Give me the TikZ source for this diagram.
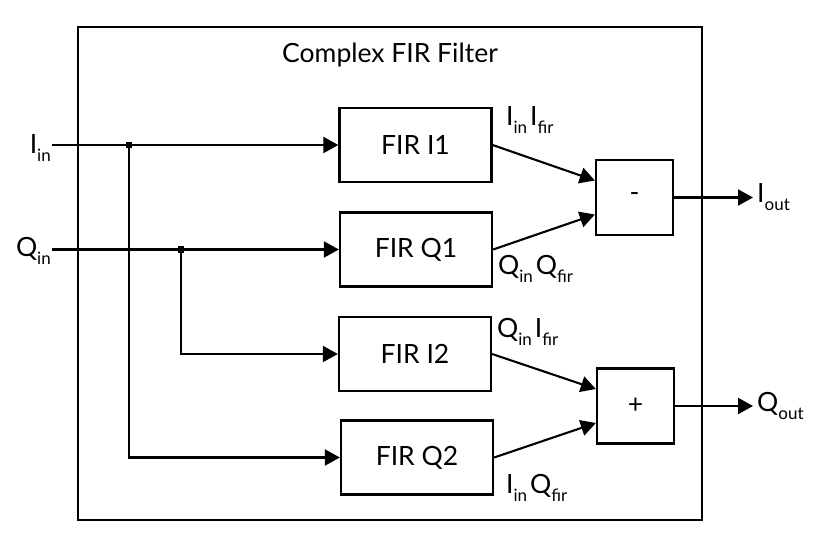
\documentclass[tikz,border=0pt]{standalone}
\usepackage{fontspec}
\setmainfont{Lato}
\usetikzlibrary{arrows.meta}
\newcommand{\sbs}[1]{\raisebox{-8.5pt}{\fontsize{17}{17}\selectfont #1}}
\begin{document}
\begin{tikzpicture}[x=1pt,y=-1pt, font=\fontsize{26.5}{30}\selectfont,
  firbox/.style={draw, line width=2.3pt, minimum width=152pt, minimum height=74pt, inner sep=0pt},
  opbox/.style={draw, line width=2.3pt, minimum width=77pt, minimum height=75pt, inner sep=0pt},
  wire/.style={line width=2.1pt},
  arr/.style={wire, -{Triangle[length=15pt,width=16pt]}},
  lbl/.style={inner sep=0pt, anchor=base west},
  dot/.style={fill, minimum size=6.5pt, inner sep=0pt}]
\useasboundingbox (0,0) rectangle (831,547);
\draw[line width=2.8pt] (78,27) rectangle (702,520);
\node[inner sep=0pt, anchor=base] (title) at (390,62) {Complex FIR Filter};
% FIR boxes
\node[firbox] (i1) at (415.5,145) {FIR I1};
\node[firbox] (q1) at (416,249.5) {FIR Q1};
\node[firbox] (i2) at (415,354) {FIR I2};
\node[firbox] (q2) at (417,457.5) {FIR Q2};
% combiners
\node[opbox] (minus) at (634.5,197.5) {-};
\node[opbox] (plus) at (635.5,406) {+};
% inputs
\coordinate (iin) at (52,145);
\coordinate (qin) at (52,249.5);
\coordinate (j1) at (129,145);
\coordinate (j2) at (181,249.5);
\node[lbl, anchor=base east] (liin) at (51,153) {I\sbs{in}};
\node[lbl, anchor=base east] (lqin) at (51,256) {Q\sbs{in}};
\draw[arr] (iin) -- (i1);
\draw[arr] (qin) -- (q1);
\draw[arr] (j1) |- (q2);
\draw[arr] (j2) |- (i2);
\node[dot] (d1) at (j1) {};
\node[dot] (d2) at (j2) {};
% to combiners
\draw[arr] (i1.east) -- ([yshift=17pt]minus.west);
\draw[arr] (q1.east) -- ([yshift=-17pt]minus.west);
\draw[arr] (i2.east) -- ([yshift=17pt]plus.west);
\draw[arr] (q2.east) -- ([yshift=-17pt]plus.west);
% product labels
\node[lbl] (l1) at (506,125) {I\sbs{in}\hspace{3pt}I\sbs{fir}};
\node[lbl] (l2) at (498,274) {Q\sbs{in}\hspace{3pt}Q\sbs{fir}};
\node[lbl] (l3) at (497,337) {Q\sbs{in}\hspace{3pt}I\sbs{fir}};
\node[lbl] (l4) at (506,493) {I\sbs{in}\hspace{3pt}Q\sbs{fir}};
% outputs
\coordinate (iout) at (753,197.5);
\coordinate (qout) at (753,406);
\draw[arr] (minus) -- (iout);
\draw[arr] (plus) -- (qout);
\node[lbl] (liout) at (757,202) {I\sbs{out}};
\node[lbl] (lqout) at (757,411) {Q\sbs{out}};
\end{tikzpicture}
\end{document}
